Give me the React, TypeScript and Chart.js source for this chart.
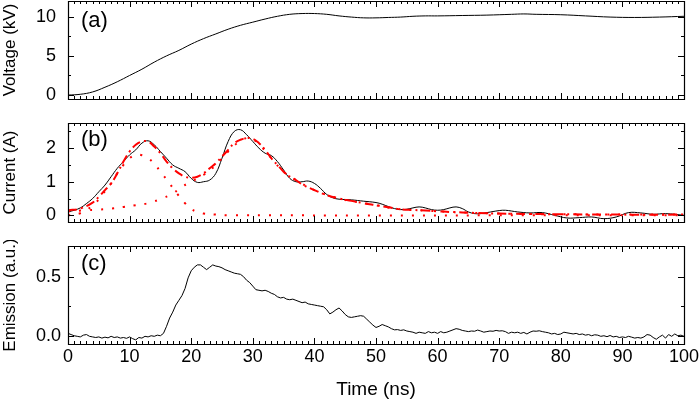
import React, { useEffect, useRef } from "react";
import { Chart, registerables } from "chart.js";

Chart.register(...registerables);

const FONT = "'Liberation Sans', Arial, Helvetica, sans-serif";

// ---------- shared x axis ----------
const xTickLabels = [0, 10, 20, 30, 40, 50, 60, 70, 80, 90, 100];
const xMinorTicks = Array.from({ length: 101 }, (_, i) => i);

// ---------- (a) Voltage ----------
const voltageTime = [0, 2, 4, 6, 8, 10, 12, 14, 16, 18, 20, 22, 24, 26, 28, 30, 32, 34, 36, 38, 40, 42, 44, 46, 48, 50, 52, 54, 56, 58, 60, 64, 68, 72, 74, 76, 80, 84, 88, 92, 96, 100];
const voltageKV = [0.0, 0.1, 0.4, 1.0, 1.7, 2.5, 3.3, 4.2, 5.0, 5.7, 6.5, 7.2, 7.8, 8.4, 8.9, 9.3, 9.7, 10.05, 10.3, 10.4, 10.4, 10.3, 10.1, 9.95, 9.85, 9.85, 9.9, 9.95, 10.05, 10.1, 10.1, 10.15, 10.2, 10.3, 10.35, 10.3, 10.25, 10.1, 9.95, 9.9, 9.95, 10.05];
const voltageTicks = [0, 5, 10];
const voltageMinor = [2.5, 7.5];

// ---------- (b) Current ----------
const currentTime = [0, 1, 2, 3, 4, 5, 6, 7, 8, 9, 10, 11, 12, 13, 14, 15, 16, 17, 18, 19, 20, 21, 22, 23, 24, 25, 26, 27, 28, 29, 30, 31, 32, 33, 34, 35, 36, 37, 38, 39, 40, 41, 42, 43, 44, 46, 48, 50, 51, 52, 53, 54, 55, 56, 57, 58, 59, 60, 61, 62, 63, 64, 65, 66, 67, 68, 70, 71, 73, 75, 77, 79, 81, 83, 85, 87, 89, 91, 93, 95, 97, 100];
const currentA = [0.1, 0.15, 0.22, 0.35, 0.5, 0.7, 0.9, 1.15, 1.4, 1.6, 1.8, 1.95, 2.15, 2.22, 2.1, 1.9, 1.7, 1.5, 1.4, 1.3, 1.1, 0.98, 1.0, 1.05, 1.25, 1.7, 2.2, 2.5, 2.55, 2.4, 2.2, 2.0, 1.85, 1.78, 1.6, 1.35, 1.1, 1.0, 1.0, 1.02, 0.95, 0.8, 0.62, 0.52, 0.48, 0.46, 0.42, 0.38, 0.33, 0.26, 0.2, 0.17, 0.18, 0.22, 0.25, 0.22, 0.17, 0.15, 0.17, 0.22, 0.25, 0.2, 0.1, 0.05, 0.05, 0.08, 0.14, 0.15, 0.1, 0.07, 0.08, 0.0, -0.08, -0.07, -0.05, -0.1, -0.05, 0.08, 0.07, 0.03, 0.05, 0.0];

const fitTime = [0, 2, 4, 5, 6, 7, 8, 9, 10, 11, 12, 13, 14, 15, 16, 17, 18, 19, 20, 21, 22, 23, 24, 25, 26, 27, 28, 29, 30, 31, 32, 33, 34, 35, 36, 37, 38, 40, 42, 44, 46, 48, 50, 52, 54, 56, 58, 60, 62, 66, 70, 75, 80, 90, 100];
const fitSum = [0.15, 0.2, 0.38, 0.55, 0.75, 0.95, 1.25, 1.6, 1.9, 2.1, 2.2, 2.2, 2.05, 1.85, 1.6, 1.4, 1.25, 1.15, 1.12, 1.15, 1.25, 1.4, 1.55, 1.75, 1.95, 2.15, 2.25, 2.3, 2.28, 2.15, 1.95, 1.7, 1.5, 1.3, 1.15, 1.05, 0.92, 0.75, 0.6, 0.5, 0.43, 0.36, 0.3, 0.24, 0.18, 0.16, 0.14, 0.12, 0.1, 0.07, 0.05, 0.04, 0.03, 0.02, 0.02];

const comp1Time = [0, 2, 3, 4, 5, 6, 7, 8, 9, 10, 11, 12, 13, 14, 15, 16, 17, 18, 19, 20, 21, 22, 24, 26, 100];
const comp1 = [0.0, 0.06, 0.15, 0.3, 0.47, 0.72, 0.95, 1.25, 1.5, 1.7, 1.8, 1.79, 1.7, 1.54, 1.3, 1.07, 0.82, 0.58, 0.36, 0.19, 0.1, 0.05, 0.02, 0.0, 0.0];

const comp2Time = [0, 3, 5, 7, 9, 11, 13, 15, 17, 18.5, 20, 22, 24, 26, 28, 29.5, 31, 33, 35, 37, 40, 44, 49, 54, 58, 62, 70, 80, 100];
const comp2 = [0.12, 0.15, 0.17, 0.2, 0.25, 0.3, 0.36, 0.48, 0.65, 0.85, 1.0, 1.2, 1.5, 1.9, 2.22, 2.3, 2.12, 1.7, 1.3, 1.05, 0.75, 0.5, 0.33, 0.18, 0.14, 0.1, 0.05, 0.03, 0.02];

const currentTicks = [0, 1, 2];
const currentMinor = [0.5, 1.5, 2.5];

// ---------- (c) Emission (sampled every 0.5 ns from 0 to 100 ns) ----------
const emissionStep = 0.5;
const emission = [
  0.02, 0.01, 0.0, -0.005, -0.01, 0.005, 0.01, -0.005, -0.01, -0.015,
  -0.01, -0.02, -0.012, -0.018, -0.005, -0.015, -0.01, -0.02, -0.015, -0.022,
  -0.01, -0.025, -0.035, -0.015, -0.02, -0.005, -0.01, 0.0, -0.005, 0.005,
  0.0, 0.02, 0.08, 0.15, 0.2, 0.26, 0.3, 0.34, 0.4, 0.49,
  0.55, 0.58, 0.6, 0.6, 0.58, 0.56, 0.58, 0.6, 0.59, 0.585,
  0.575, 0.56, 0.55, 0.54, 0.53, 0.525, 0.52, 0.5, 0.47, 0.45,
  0.42, 0.39, 0.385, 0.38, 0.385, 0.375, 0.36, 0.35, 0.33, 0.32,
  0.325, 0.31, 0.305, 0.31, 0.3, 0.29, 0.28, 0.285, 0.27, 0.265,
  0.26, 0.255, 0.25, 0.245, 0.22, 0.185, 0.2, 0.22, 0.235, 0.21,
  0.18, 0.16, 0.155, 0.16, 0.165, 0.17, 0.165, 0.14, 0.115, 0.09,
  0.07, 0.08, 0.095, 0.085, 0.075, 0.06, 0.05, 0.052, 0.045, 0.05,
  0.04, 0.035, 0.03, 0.02, 0.03, 0.025, 0.02, 0.035, 0.025, 0.03,
  0.02, 0.035, 0.025, 0.03, 0.04, 0.05, 0.06, 0.055, 0.045, 0.04,
  0.035, 0.04, 0.038, 0.048, 0.04, 0.03, 0.035, 0.04, 0.038, 0.045,
  0.04, 0.042, 0.035, 0.02, 0.03, 0.025, 0.03, 0.02, 0.028, 0.015,
  0.03, 0.04, 0.038, 0.042, 0.035, 0.03, 0.025, 0.015, 0.02, 0.01,
  0.015, 0.03, 0.025, 0.02, 0.015, 0.02, 0.01, 0.015, 0.005, 0.01,
  0.0, 0.008, 0.005, -0.005, 0.0, -0.008, 0.002, -0.01, -0.005, -0.015,
  -0.01, -0.015, -0.005, -0.012, -0.02, -0.015, -0.02, -0.01, 0.01, 0.005,
  -0.015, -0.03, -0.01, 0.005, -0.02, 0.01, -0.005, 0.015, 0.0, 0.005,
  -0.005,
];
const emissionTicks = [0, 0.5];
const emissionMinor = [0.25];

const zip = (xs: number[], ys: number[]) => xs.map((x, i) => ({ x, y: ys[i] }));

const framePlugin = {
  id: "frame",
  afterDatasetsDraw(chart: any, _args: any, opts: any) {
    const { ctx, chartArea } = chart;
    const { left, right, top, bottom } = chartArea;
    const xs = chart.scales.x;
    const ys = chart.scales.y;
    ctx.save();
    ctx.strokeStyle = "#000";
    ctx.lineWidth = 1.2;
    ctx.beginPath();
    ctx.rect(Math.round(left) + 0.5, Math.round(top) + 0.5, Math.round(right - left), Math.round(bottom - top));
    ctx.stroke();
    ctx.lineWidth = 1;
    const tickX = (v: number, len: number) => {
      const px = Math.round(xs.getPixelForValue(v)) + 0.5;
      ctx.moveTo(px, bottom);
      ctx.lineTo(px, bottom - len);
      ctx.moveTo(px, top);
      ctx.lineTo(px, top + len);
    };
    const tickY = (v: number, len: number) => {
      const py = Math.round(ys.getPixelForValue(v)) + 0.5;
      ctx.moveTo(left, py);
      ctx.lineTo(left + len, py);
      ctx.moveTo(right, py);
      ctx.lineTo(right - len, py);
    };
    ctx.beginPath();
    xMinorTicks.forEach((v) => tickX(v, xTickLabels.includes(v) ? 6 : 3));
    (opts.yMajor as number[]).forEach((v) => tickY(v, 6));
    (opts.yMinor as number[]).forEach((v) => tickY(v, 3));
    ctx.stroke();
    ctx.fillStyle = "#000";
    ctx.font = `22px ${FONT}`;
    ctx.textAlign = "left";
    ctx.textBaseline = "middle";
    ctx.fillText(opts.label, left + 13, top + opts.labelDy);
    ctx.restore();
  },
};

type Panel = {
  datasets: any[];
  yMin: number;
  yMax: number;
  yTicks: number[];
  yMinor: number[];
  yTitle: string;
  decimals: number;
  labelPad: number;
  padTop: number;
  padBottom: number;
  showX: boolean;
  label: string;
  labelDy: number;
};

function buildConfig(p: Panel): any {
  const tickFont = { size: 18, family: FONT };
  const yTitleFont = { size: 17, family: FONT };
  return {
    type: "line",
    data: { datasets: p.datasets },
    options: {
      animation: false,
      responsive: false,
      devicePixelRatio: 1,
      layout: { padding: { left: 0, right: 16, top: p.padTop, bottom: p.padBottom }, autoPadding: false },
      plugins: {
        legend: { display: false },
        tooltip: { enabled: false },
        frame: { yMajor: p.yTicks, yMinor: p.yMinor, label: p.label, labelDy: p.labelDy },
      },
      elements: { point: { radius: 0 } },
      scales: {
        x: {
          type: "linear",
          min: 0,
          max: 100,
          display: p.showX,
          grid: { display: false, drawTicks: false },
          border: { display: false },
          afterBuildTicks: (s: any) => {
            s.ticks = xTickLabels.map((v) => ({ value: v }));
          },
          afterFit: (s: any) => {
            s.paddingLeft = 0;
            s.paddingRight = 0;
            if (p.showX) s.height = 55;
          },
          ticks: { color: "#000", font: tickFont, padding: 2, maxRotation: 0, autoSkip: false },
          title: { display: p.showX, text: "Time (ns)", color: "#000", font: { size: 19, family: FONT }, padding: { top: 0, bottom: -2 } },
        },
        y: {
          type: "linear",
          min: p.yMin,
          max: p.yMax,
          grid: { display: false, drawTicks: false },
          border: { display: false },
          afterBuildTicks: (s: any) => {
            s.ticks = p.yTicks.map((v) => ({ value: v }));
          },
          afterFit: (s: any) => {
            s.width = 68;
            s.paddingTop = 0;
            s.paddingBottom = 0;
          },
          ticks: {
            color: "#000",
            font: tickFont,
            padding: p.labelPad,
            callback: (v: any) => Number(v).toFixed(p.decimals),
          },
          title: { display: true, text: p.yTitle, color: "#000", font: yTitleFont, padding: { top: 0, bottom: 0 } },
        },
      },
    },
    plugins: [framePlugin],
  };
}

const blackLine = (data: any[], tension: number) => ({
  data,
  borderColor: "#000",
  borderWidth: 1,
  tension,
  pointRadius: 0,
  order: 2,
});

export default function App() {
  const refA = useRef<HTMLCanvasElement>(null);
  const refB = useRef<HTMLCanvasElement>(null);
  const refC = useRef<HTMLCanvasElement>(null);

  useEffect(() => {
    const charts: Chart[] = [];
    charts.push(
      new Chart(
        refA.current!,
        buildConfig({
          datasets: [blackLine(zip(voltageTime, voltageKV), 0.4)],
          yMin: -0.5,
          yMax: 12,
          yTicks: voltageTicks,
          yMinor: voltageMinor,
          yTitle: "Voltage (kV)",
          decimals: 0,
          labelPad: 12,
          padTop: 1,
          padBottom: 5,
          showX: false,
          label: "(a)",
          labelDy: 20,
        })
      )
    );
    charts.push(
      new Chart(
        refB.current!,
        buildConfig({
          datasets: [
            {
              data: zip(fitTime, fitSum),
              borderColor: "#ff0000",
              borderWidth: 2,
              borderDash: [9, 4, 2, 4],
              tension: 0.4,
              pointRadius: 0,
              order: 0,
            },
            {
              data: zip(comp1Time, comp1),
              borderColor: "#ff0000",
              borderWidth: 2,
              borderDash: [2, 9],
              tension: 0.4,
              pointRadius: 0,
              order: 1,
            },
            {
              data: zip(comp2Time, comp2),
              borderColor: "#ff0000",
              borderWidth: 2,
              borderDash: [2, 9],
              tension: 0.4,
              pointRadius: 0,
              order: 1,
            },
            blackLine(zip(currentTime, currentA), 0.4),
          ],
          yMin: -0.2,
          yMax: 2.75,
          yTicks: currentTicks,
          yMinor: currentMinor,
          yTitle: "Current (A)",
          decimals: 0,
          labelPad: 12,
          padTop: 5,
          padBottom: 6,
          showX: false,
          label: "(b)",
          labelDy: 17,
        })
      )
    );
    charts.push(
      new Chart(
        refC.current!,
        buildConfig({
          datasets: [blackLine(emission.map((y, i) => ({ x: i * emissionStep, y })), 0)],
          yMin: -0.07,
          yMax: 0.76,
          yTicks: emissionTicks,
          yMinor: emissionMinor,
          yTitle: "Emission (a.u.)",
          decimals: 1,
          labelPad: 7,
          padTop: 6,
          padBottom: 0,
          showX: true,
          label: "(c)",
          labelDy: 18,
        })
      )
    );
    return () => charts.forEach((c) => c.destroy());
  }, []);

  const cs: React.CSSProperties = { position: "absolute", left: 0, display: "block" };
  return (
    <div style={{ position: "fixed", left: 0, top: 0, width: 700, height: 399, background: "#fff", overflow: "hidden" }}>
      <canvas ref={refA} width={700} height={104} style={{ ...cs, top: 0 }} />
      <canvas ref={refB} width={700} height={110} style={{ ...cs, top: 118 }} />
      <canvas ref={refC} width={700} height={159} style={{ ...cs, top: 240 }} />
    </div>
  );
}
